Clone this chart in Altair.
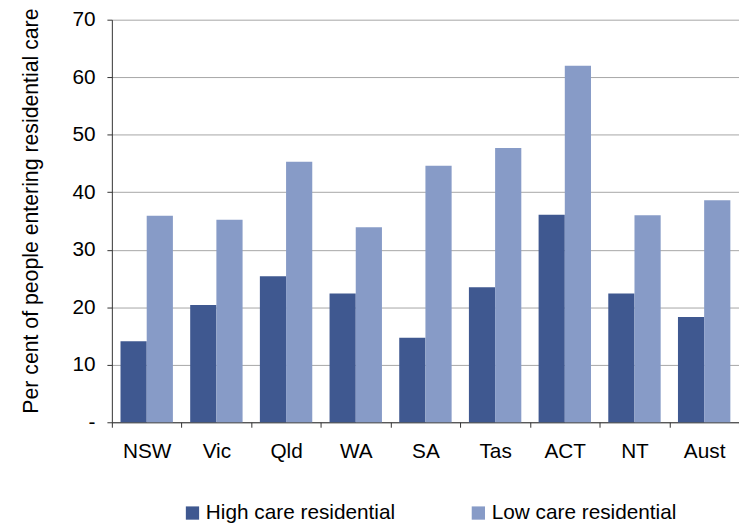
import altair as alt
import pandas as pd

states = ["NSW", "Vic", "Qld", "WA", "SA", "Tas", "ACT", "NT", "Aust"]
high_care = [14.1, 20.4, 25.4, 22.4, 14.7, 23.5, 36.1, 22.4, 18.3]
low_care = [35.9, 35.2, 45.3, 33.9, 44.6, 47.7, 62.0, 36.0, 38.6]
series_names = ["High care residential", "Low care residential"]
series_colors = ["#3f5890", "#879bc7"]
y_ticks = [0, 10, 20, 30, 40, 50, 60, 70]

rows = []
for s, h, l in zip(states, high_care, low_care):
    rows.append({"state": s, "series": series_names[0], "value": h})
    rows.append({"state": s, "series": series_names[1], "value": l})
df = pd.DataFrame(rows)

FONT = "Liberation Sans"

chart = (
    alt.Chart(df)
    .mark_bar()
    .encode(
        x=alt.X(
            "state:N",
            sort=states,
            scale=alt.Scale(paddingInner=0, paddingOuter=0),
            axis=alt.Axis(
                title=None,
                labelAngle=0,
                labelFontSize=21,
                labelFont=FONT,
                labelColor="black",
                labelPadding=14,
                tickBand="extent",
                tickSize=5,
                tickColor="#333333",
                domainColor="#333333",
                grid=False,
            ),
        ),
        xOffset=alt.XOffset(
            "series:N",
            sort=series_names,
            scale=alt.Scale(paddingInner=0, paddingOuter=0.33),
        ),
        y=alt.Y(
            "value:Q",
            scale=alt.Scale(domain=[0, 70], nice=False),
            axis=alt.Axis(
                title="Per cent of people entering residential care",
                titleFont=FONT,
                titleFontSize=21.5,
                titleFontWeight="normal",
                titleColor="black",
                titleX=-70,
                titleY=193,
                values=y_ticks,
                labelExpr="datum.value == 0 ? '-' : datum.label",
                labelFontSize=21,
                labelFont=FONT,
                labelColor="black",
                labelPadding=12,
                tickSize=5,
                tickColor="#333333",
                domainColor="#333333",
                gridColor="#a6a6a6",
                gridWidth=1,
            ),
        ),
        color=alt.Color(
            "series:N",
            sort=series_names,
            scale=alt.Scale(domain=series_names, range=series_colors),
            legend=alt.Legend(
                title=None,
                orient="none",
                legendX=71,
                legendY=488,
                direction="horizontal",
                columns=2,
                symbolType="square",
                symbolSize=180,
                symbolStrokeWidth=0,
                labelFont=FONT,
                labelFontSize=21,
                labelColor="black",
                labelOffset=3,
                labelLimit=0,
                columnPadding=73,
                padding=0,
            ),
        ),
    )
    .properties(
        width=634,
        height=407,
        autosize=alt.AutoSizeParams(type="none"),
        padding={"left": 105, "top": 9, "right": 0, "bottom": 99},
    )
    .configure_view(stroke=None)
)

chart.save("out.html", embed_options={"renderer": "svg", "actions": False})
